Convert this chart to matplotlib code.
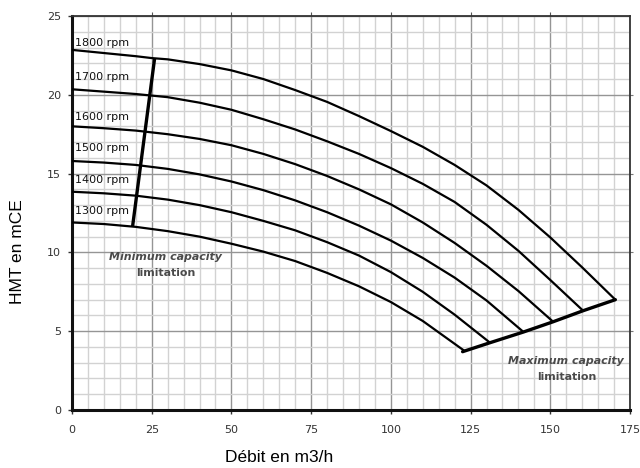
import matplotlib
matplotlib.use("Agg")
import matplotlib.pyplot as plt
from matplotlib.ticker import MultipleLocator

# ---- data ----
rpm_labels = ["1800 rpm", "1700 rpm", "1600 rpm", "1500 rpm", "1400 rpm", "1300 rpm"]

q_1800 = [0, 10, 20, 25, 30, 40, 50, 60, 70, 80, 90, 100, 110, 120, 130, 140, 150, 160, 170.4]
h_1800 = [22.85, 22.65, 22.45, 22.33, 22.25, 21.95, 21.55, 21.0, 20.3, 19.55, 18.65, 17.7,
          16.7, 15.55, 14.25, 12.7, 10.95, 9.05, 7.0]

q_1700 = [0, 10, 20, 30, 40, 50, 60, 70, 80, 90, 100, 110, 120, 130, 140, 150, 160.3]
h_1700 = [20.35, 20.2, 20.05, 19.85, 19.5, 19.05, 18.45, 17.8, 17.05, 16.25, 15.35, 14.35,
          13.2, 11.75, 10.1, 8.25, 6.3]

q_1600 = [0, 10, 20, 30, 40, 50, 60, 70, 80, 90, 100, 110, 120, 130, 140, 150.9]
h_1600 = [18.0, 17.88, 17.73, 17.5, 17.2, 16.8, 16.25, 15.6, 14.85, 14.0, 13.05, 11.9,
          10.6, 9.15, 7.55, 5.6]

q_1500 = [0, 10, 20, 30, 40, 50, 60, 70, 80, 90, 100, 110, 120, 130, 141.6]
h_1500 = [15.8, 15.7, 15.55, 15.3, 14.95, 14.5, 13.95, 13.3, 12.55, 11.7, 10.75, 9.65,
          8.4, 6.95, 4.95]

q_1400 = [0, 10, 20, 30, 40, 50, 60, 70, 80, 90, 100, 110, 120, 131.1]
h_1400 = [13.85, 13.75, 13.6, 13.35, 13.0, 12.55, 12.0, 11.4, 10.65, 9.8, 8.75, 7.5,
          6.05, 4.27]

q_1300 = [0, 10, 20, 30, 40, 50, 60, 70, 80, 90, 100, 110, 123.1]
h_1300 = [11.9, 11.8, 11.62, 11.35, 11.0, 10.55, 10.05, 9.45, 8.7, 7.85, 6.85, 5.65, 3.75]

label_y = [23.3, 21.1, 18.6, 16.6, 14.6, 12.6]

min_cap_q = [19.0, 25.9]
min_cap_h = [11.65, 22.3]

max_cap_q = [122.5, 131.1, 141.6, 150.9, 160.3, 170.4]
max_cap_h = [3.7, 4.27, 4.95, 5.6, 6.3, 7.0]

x_ticks = [0, 25, 50, 75, 100, 125, 150, 175]
y_ticks = [0, 5, 10, 15, 20, 25]

curves_q = [q_1800, q_1700, q_1600, q_1500, q_1400, q_1300]
curves_h = [h_1800, h_1700, h_1600, h_1500, h_1400, h_1300]

# ---- figure ----
fig = plt.figure(figsize=(6.4, 4.68), dpi=100)
ax = fig.add_axes([72 / 640, 58 / 468, 558 / 640, 394 / 468])
ax.set_xlim(0, 175)
ax.set_ylim(0, 25)

ax.xaxis.set_minor_locator(MultipleLocator(5))
ax.yaxis.set_minor_locator(MultipleLocator(1))
ax.set_xticks(x_ticks)
ax.set_yticks(y_ticks)

ax.grid(which="minor", color="#d2d2d2", linewidth=1.0)
ax.grid(which="major", color="#959595", linewidth=1.0)
ax.set_axisbelow(True)

ax.tick_params(which="minor", length=0)
ax.tick_params(which="major", direction="out", length=3, width=1,
               colors="#333333", labelsize=8)
ax.tick_params(axis="x", pad=8)
ax.tick_params(axis="y", pad=5)

for side in ["left", "bottom"]:
    ax.spines[side].set_linewidth(2.2)
    ax.spines[side].set_color("#111111")
for side in ["top", "right"]:
    ax.spines[side].set_linewidth(1.3)
    ax.spines[side].set_color("#333333")

sec_x = ax.secondary_xaxis("top")
sec_x.set_xticks(x_ticks[1:-1])
sec_x.tick_params(direction="out", length=3, width=0.8, colors="#555555", labeltop=False)
sec_x.spines["top"].set_visible(False)
sec_y = ax.secondary_yaxis("right")
sec_y.set_yticks(y_ticks[1:-1])
sec_y.tick_params(direction="inout", length=5, width=0.8, colors="#777777", labelright=False)
sec_y.spines["right"].set_visible(False)

for q, h in zip(curves_q, curves_h):
    ax.plot(q, h, color="black", linewidth=1.6, solid_joinstyle="round",
            solid_capstyle="round", zorder=3)

for lab, ly in zip(rpm_labels, label_y):
    ax.text(1.0, ly, lab, fontsize=8, color="#111111", va="center", ha="left", zorder=4)

ax.plot(min_cap_q, min_cap_h, color="black", linewidth=2.4, solid_capstyle="butt", zorder=4)
ax.plot(max_cap_q, max_cap_h, color="black", linewidth=2.4, solid_capstyle="round",
        solid_joinstyle="round", zorder=4)

txt_kw = dict(fontsize=7.9, color="#4a4a4a", ha="center", va="center", fontweight="bold")
ax.text(29.4, 9.68, "Minimum capacity", style="italic", **txt_kw)
ax.text(29.4, 8.72, "limitation", **txt_kw)
ax.text(154.8, 3.08, "Maximum capacity", style="italic", **txt_kw)
ax.text(155.1, 2.09, "limitation", **txt_kw)

fig.text(18 / 640, 1 - 252 / 468, "HMT en mCE", rotation=90, fontsize=12.5,
         family="Liberation Sans", ha="center", va="center", color="black")
fig.text(279 / 640, 1 - 458 / 468, "Débit en m3/h", fontsize=12.5,
         family="Liberation Sans", ha="center", va="center", color="black")

fig.savefig("out.png", dpi=100)
